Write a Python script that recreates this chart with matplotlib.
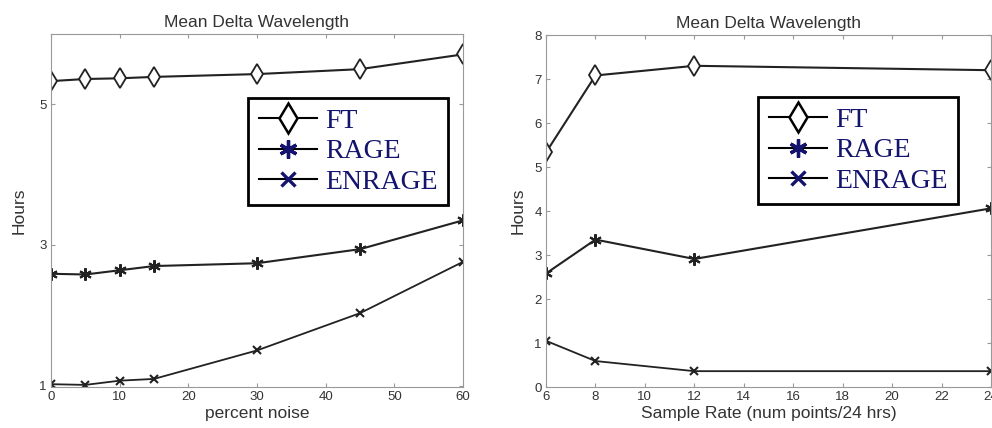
import matplotlib
matplotlib.use("Agg")
import matplotlib.pyplot as plt
from matplotlib.lines import Line2D

plt.rcParams["font.family"] = ["Liberation Sans", "DejaVu Sans"]

# Left panel: percent noise
noise = [0, 5, 10, 15, 30, 45, 60]
ft_noise = [5.33, 5.36, 5.37, 5.39, 5.43, 5.50, 5.71]
rage_noise = [2.59, 2.58, 2.64, 2.70, 2.74, 2.94, 3.35]
enrage_noise = [1.02, 1.01, 1.07, 1.095, 1.50, 2.03, 2.76]

# Right panel: sample rate
rate = [6, 8, 12, 24]
ft_rate = [5.33, 7.08, 7.30, 7.20]
rage_rate = [2.58, 3.35, 2.91, 4.06]
enrage_rate = [1.05, 0.59, 0.36, 0.36]

title = "Mean Delta Wavelength"
labels = ["FT", "RAGE", "ENRAGE"]

fig = plt.figure(figsize=(9.92, 4.28), dpi=100)
ax1 = fig.add_axes([51/992, 41/428, 412/992, 353/428])
ax2 = fig.add_axes([546/992, 41/428, 445/992, 352/428])

line_c = "#222222"
leg_c = "#14146e"
txt_c = "#333333"
asterisk = (6, 2, 0)

def style(ax):
    for s in ax.spines.values():
        s.set_color("#999999")
        s.set_linewidth(0.8)
    ax.tick_params(direction="in", top=True, right=True, length=3,
                   color="#999999", labelsize=9.5, labelcolor=txt_c, pad=3)

def draw(ax, x, ft, rage, enrage):
    ax.plot(x, ft, color=line_c, lw=1.5, marker="d", ms=10, mfc="white",
            mec=line_c, mew=1.3)
    ax.plot(x, rage, color=line_c, lw=1.5, marker=asterisk, ms=9,
            mec=line_c, mew=1.5)
    ax.plot(x, enrage, color=line_c, lw=1.3, marker="x", ms=6,
            mec=line_c, mew=1.5)

def legend(ax, loc):
    handles = [
        Line2D([], [], color="black", lw=1.5, marker="d", ms=15, mfc="white",
               mec="black", mew=1.8),
        Line2D([], [], color="black", lw=1.5, marker=asterisk, ms=13,
               mec=leg_c, mew=2.4),
        Line2D([], [], color="black", lw=1.5, marker="x", ms=10,
               mec=leg_c, mew=2.4),
    ]
    leg = ax.legend(handles, labels, loc="upper left", bbox_to_anchor=loc,
                    prop={"family": "Liberation Serif", "size": 20},
                    frameon=True, fancybox=False, edgecolor="black",
                    framealpha=1, handlelength=2.1, handletextpad=0.3,
                    labelspacing=0.18, borderpad=0.38, borderaxespad=0)
    leg.get_frame().set_linewidth(2)
    for t in leg.get_texts():
        t.set_color(leg_c)

draw(ax1, noise, ft_noise, rage_noise, enrage_noise)
ax1.set_xlim(0, 60)
ax1.set_ylim(0.98, 6.0)
ax1.set_xticks(range(0, 61, 10))
ax1.set_yticks([1, 3, 5])
style(ax1)
ax1.set_title(title, fontsize=12.5, color=txt_c, pad=5)
ax1.set_xlabel("percent noise", fontsize=12.5, color=txt_c, labelpad=2)
ax1.set_ylabel("Hours", fontsize=12.5, color=txt_c, labelpad=9)
legend(ax1, ((248-51)/412, (387-98)/353))

draw(ax2, rate, ft_rate, rage_rate, enrage_rate)
ax2.set_xlim(6, 24)
ax2.set_ylim(0, 8)
ax2.set_xticks(range(6, 25, 2))
ax2.set_yticks(range(0, 9))
style(ax2)
ax2.set_title(title, fontsize=12.5, color=txt_c, pad=5)
ax2.set_xlabel("Sample Rate (num points/24 hrs)", fontsize=12.5, color=txt_c, labelpad=2)
ax2.set_ylabel("Hours", fontsize=12.5, color=txt_c, labelpad=6)
legend(ax2, ((758-546)/445, (387-97)/352))

fig.savefig("out.png", dpi=100)
